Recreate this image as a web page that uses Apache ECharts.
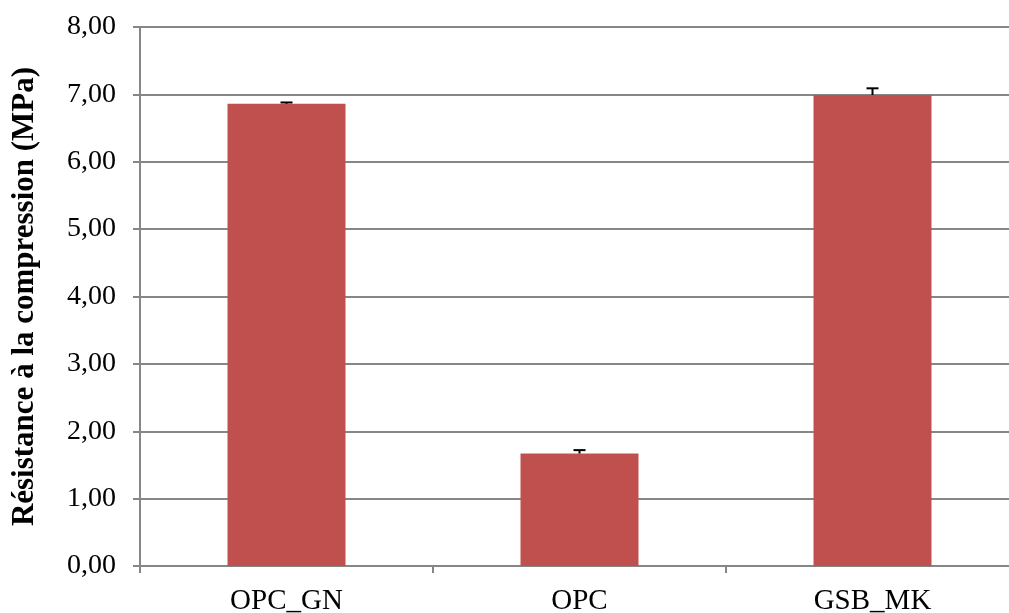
<!DOCTYPE html>
<html>
<head>
<meta charset="utf-8">
<script src="https://cdn.jsdelivr.net/npm/echarts@6/dist/echarts.min.js"></script>
<style>
html, body { margin: 0; padding: 0; background: #fff; }
#chart { width: 1009px; height: 613px; }
</style>
</head>
<body>
<div id="chart"></div>
<script>
// données
var categories = ['OPC_GN', 'OPC', 'GSB_MK'];
var resistance = [6.86, 1.67, 6.99];
var ecart = [0.02, 0.05, 0.10];
var yTicks = ['0,00', '1,00', '2,00', '3,00', '4,00', '5,00', '6,00', '7,00', '8,00'];

var fontFam = '"Liberation Serif", "Times New Roman", serif';

function initChart() {
	var myChart = echarts.init(document.getElementById('chart'));

	var errData = [];
	for (var i = 0; i < categories.length; i++) {
		errData.push([i, resistance[i], resistance[i] + ecart[i]]);
	}

	var option = {
		animation : false,
		grid : {
			left : 140,
			top : 27,
			bottom : 47,
			width : 879,
			containLabel : false,
			outerBoundsMode : 'none'
		},
		xAxis : {
			type : 'category',
			data : categories,
			axisLine : { lineStyle : { color : '#868686', width : 2 } },
			axisTick : { show : true, length : 7, lineStyle : { color : '#868686', width : 2 } },
			axisLabel : { color : '#000', fontFamily : fontFam, fontSize : 29, margin : 21 }
		},
		yAxis : {
			type : 'value',
			min : 0,
			max : 8,
			interval : 1,
			name : 'Résistance à la compression (MPa)',
			nameLocation : 'middle',
			nameRotate : 90,
			nameGap : 100,
			nameTextStyle : { color : '#000', fontFamily : fontFam, fontSize : 31, fontWeight : 'bold' },
			axisLine : { show : true, lineStyle : { color : '#868686', width : 2 } },
			axisTick : { show : true, length : 7, lineStyle : { color : '#868686', width : 2 } },
			axisLabel : {
				color : '#000',
				fontFamily : fontFam,
				fontSize : 28,
				margin : 24,
				formatter : function(v) {
					return yTicks[Math.round(v)];
				}
			},
			splitLine : { lineStyle : { color : '#868686', width : 2 } }
		},
		series : [ {
			type : 'bar',
			data : resistance,
			barWidth : 118,
			itemStyle : { color : '#C0504D' }
		}, {
			type : 'custom',
			data : errData,
			z : 10,
			renderItem : function(params, api) {
				var x = api.value(0);
				var p0 = api.coord([x, api.value(1)]);
				var p1 = api.coord([x, api.value(2)]);
				var half = 6;
				return {
					type : 'group',
					children : [ {
						type : 'line',
						shape : { x1 : p0[0], y1 : p0[1], x2 : p1[0], y2 : p1[1] },
						style : { stroke : '#000', lineWidth : 2 }
					}, {
						type : 'line',
						shape : { x1 : p1[0] - half, y1 : p1[1], x2 : p1[0] + half, y2 : p1[1] },
						style : { stroke : '#000', lineWidth : 2 }
					} ]
				};
			}
		} ]
	};

	myChart.setOption(option);
}

initChart();
</script>
</body>
</html>
